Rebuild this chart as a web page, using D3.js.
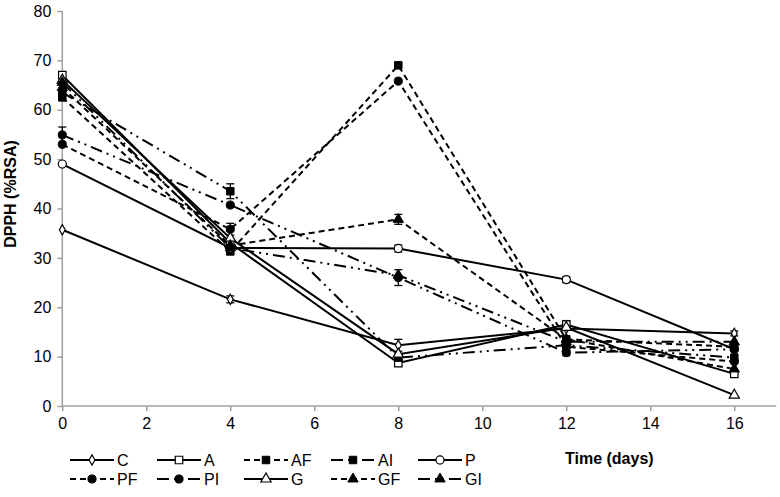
<!DOCTYPE html>
<html><head><meta charset="utf-8">
<script src="https://cdn.jsdelivr.net/npm/d3@7"></script>
<style>body{margin:0;background:#fff}svg{display:block}text{font-family:"Liberation Sans",Arial,sans-serif}</style>
</head><body><svg id="c" width="780" height="497"></svg>
<script>
const days = [0, 4, 8, 12, 16];
const xTicks = [0, 2, 4, 6, 8, 10, 12, 14, 16];
const yTicks = [0, 10, 20, 30, 40, 50, 60, 70, 80];
const seriesNames = ["C", "A", "AF", "AI", "P", "PF", "PI", "G", "GF", "GI"];
const C  = [35.7, 21.6, 12.3, 15.7, 14.7];
const A  = [67.0, 33.0, 8.7, 16.5, 6.5];
const AF = [62.5, 31.3, 69.0, 13.5, 12.0];
const AI = [63.5, 43.5, 9.8, 12.3, 9.8];
const P  = [49.0, 32.0, 31.9, 25.6, 11.5];
const PF = [53.0, 35.8, 65.8, 12.0, 9.0];
const PI = [54.9, 40.7, 26.0, 10.8, 11.5];
const G  = [66.0, 34.0, 10.5, 15.9, 2.2];
const GF = [64.5, 32.5, 37.8, 13.5, 7.5];
const GI = [65.5, 32.0, 26.5, 13.0, 13.0];
const C_err  = [0, 0.7, 1.2, 0, 0.5];
const A_err  = [0, 0, 0.6, 0.8, 0];
const AF_err = [0, 0, 0, 0, 0];
const AI_err = [0, 1.5, 0, 0, 0];
const P_err  = [0, 0, 0.7, 0.6, 0];
const PF_err = [0, 1.2, 0, 0.8, 0];
const PI_err = [1.6, 0, 1.6, 0.6, 0];
const G_err  = [0, 0, 0, 0, 0];
const GF_err = [0, 0, 1.0, 0, 0];
const GI_err = [0, 0, 0, 0, 0];

const values = {C, A, AF, AI, P, PF, PI, G, GF, GI};
const errs = {C: C_err, A: A_err, AF: AF_err, AI: AI_err, P: P_err, PF: PF_err, PI: PI_err, G: G_err, GF: GF_err, GI: GI_err};
const styleOf = {
  C:  {dash: null, shape: "diamond", fill: false},
  A:  {dash: null, shape: "square", fill: false},
  AF: {dash: "6,4", shape: "square", fill: true},
  AI: {dash: "12,5,2,5,2,5", shape: "square", fill: true},
  P:  {dash: null, shape: "circle", fill: false},
  PF: {dash: "6,4", shape: "circle", fill: true},
  PI: {dash: "12,5,2,5,2,5", shape: "circle", fill: true},
  G:  {dash: null, shape: "triangle", fill: false},
  GF: {dash: "6,4", shape: "triangle", fill: true},
  GI: {dash: "12,5,2,5,2,5", shape: "triangle", fill: true}
};

const svg = d3.select("#c");
const x = d3.scaleLinear().domain([0, 17]).range([62.3, 776.3]);
const y = d3.scaleLinear().domain([0, 80]).range([406, 11]);
const axisColor = "#a0a0a0";

const gx = svg.append("g").attr("transform", `translate(0,${y(0)})`)
  .call(d3.axisBottom(x).tickValues(xTicks).tickSize(5).tickPadding(7).tickFormat(d3.format("d")));
const gy = svg.append("g").attr("transform", `translate(${x(0)},0)`)
  .call(d3.axisLeft(y).tickValues(yTicks).tickSize(5).tickPadding(6).tickFormat(d3.format("d")));
[gx, gy].forEach(g => {
  g.select(".domain").attr("stroke", axisColor).attr("stroke-width", 1.5);
  g.selectAll(".tick line").attr("stroke", axisColor).attr("stroke-width", 1.5);
  g.selectAll(".tick text").attr("fill", "#000").style("font-size", "16px").style("font-family", '"Liberation Sans",Arial,sans-serif');
});
gx.select(".domain").attr("d", `M${x(0)},0H${x(17)}`);
gy.select(".domain").attr("d", `M0,${y(0)}V${y(80)}`);

svg.append("text").attr("transform", `translate(16,194) rotate(-90)`).attr("text-anchor", "middle")
  .style("font-size", "16px").style("font-weight", "bold").text("DPPH (%RSA)");
svg.append("text").attr("x", 565).attr("y", 464).style("font-size", "16px").style("font-weight", "bold").text("Time (days)");

const sym = {
  diamond: d3.symbol().type(d3.symbolDiamond).size(30),
  square: d3.symbol().type(d3.symbolSquare).size(56),
  circle: d3.symbol().type(d3.symbolCircle).size(52),
  triangle: d3.symbol().type(d3.symbolTriangle).size(46)
};

const line = d3.line().x(d => x(d[0])).y(d => y(d[1]));
const plot = svg.append("g");

seriesNames.forEach(name => {
  values[name].forEach((v, i) => {
    const e = errs[name][i];
    if (!e) return;
    const cx = x(days[i]);
    const g = plot.append("g").attr("stroke", "#000").attr("stroke-width", 1.3);
    g.append("line").attr("x1", cx).attr("x2", cx).attr("y1", y(v - e)).attr("y2", y(v + e));
    g.append("line").attr("x1", cx - 4).attr("x2", cx + 4).attr("y1", y(v - e)).attr("y2", y(v - e));
    g.append("line").attr("x1", cx - 4).attr("x2", cx + 4).attr("y1", y(v + e)).attr("y2", y(v + e));
  });
});

seriesNames.forEach(name => {
  const pts = days.map((d, i) => [d, values[name][i]]);
  plot.append("path").attr("d", line(pts)).attr("fill", "none").attr("stroke", "#000")
    .attr("stroke-width", 2).attr("stroke-dasharray", styleOf[name].dash);
});

function drawMarker(g, name, cx, cy) {
  const s = styleOf[name];
  g.append("path").attr("d", sym[s.shape]()).attr("transform", `translate(${cx},${cy})`)
    .attr("fill", s.fill ? "#000" : "#fff").attr("stroke", "#000").attr("stroke-width", s.fill ? 1 : 1.2);
}
seriesNames.forEach(name => {
  values[name].forEach((v, i) => drawMarker(plot, name, x(days[i]), y(v)));
});

const legend = svg.append("g");
seriesNames.forEach((name, k) => {
  const col = k % 5, row = Math.floor(k / 5);
  const lx = 70 + col * 87, ly = 460 + row * 19;
  const s = styleOf[name];
  legend.append("line").attr("x1", lx).attr("x2", lx + 44).attr("y1", ly).attr("y2", ly)
    .attr("stroke", "#000").attr("stroke-width", 2).attr("stroke-dasharray", s.dash);
  drawMarker(legend, name, lx + 22, ly);
  legend.append("text").attr("x", lx + 47).attr("y", ly + 6).style("font-size", "16px").text(name);
});
</script></body></html>
